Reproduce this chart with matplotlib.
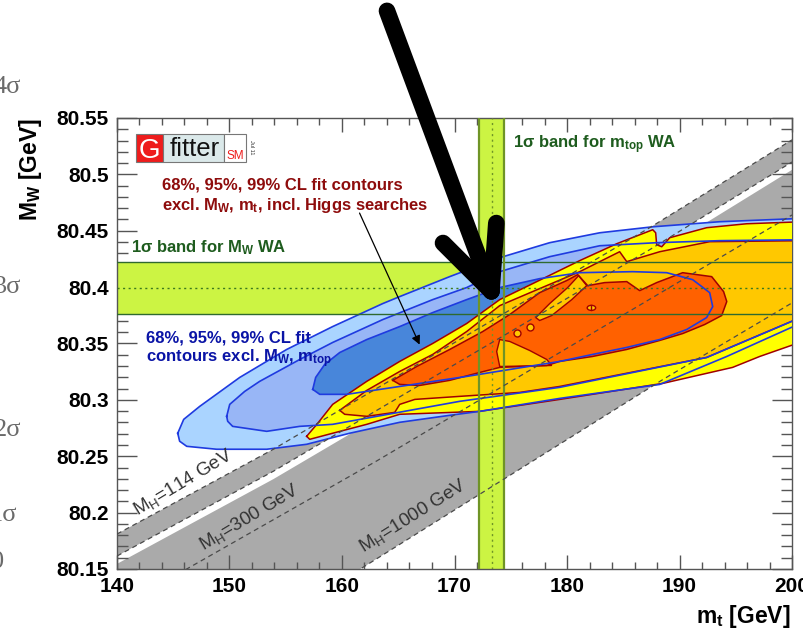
import numpy as np
import matplotlib
matplotlib.use('Agg')
import matplotlib.pyplot as plt
from matplotlib.patches import Rectangle, Ellipse
from matplotlib.ticker import FixedLocator, FuncFormatter

# Fontes. =====================================================================

plt.rcParams['font.family'] = ['Liberation Sans', 'DejaVu Sans']
plt.rcParams['mathtext.fontset'] = 'custom'
plt.rcParams['mathtext.rm'] = 'Liberation Sans:bold'
plt.rcParams['mathtext.it'] = 'Liberation Sans:bold'
plt.rcParams['mathtext.bf'] = 'Liberation Sans:bold'
plt.rcParams['mathtext.sf'] = 'Liberation Sans'

# Dados. ======================================================================

# medias mundiais (WA)
mw_wa, mw_err = 80.399, 0.023
mt_wa, mt_err = 173.3, 1.1

# bandas de predicao do SM (linhas M_H)
mh114_mt = [140.0, 153.9, 187.35, 200.0]
mh114_top_mw = [80.181, 80.2562, 80.4527, 80.5306]
mh114_bot_mw = [80.1615, 80.2367, 80.4332, 80.511]
white_bot_mw = [80.1545, 80.2297, 80.4262, 80.504]
mh300_mt = [140.0, 146.2, 163.08, 200.0]
mh300_mw = [80.115, 80.15, 80.2458, 80.464]
mh1000_mt = [140.0, 161.87, 188.53, 200.0]
mh1000_mw = [80.015, 80.1515, 80.3181, 80.386]

# contornos do fit sem M_W, m_top (azul)
blue99_mt = [145.40, 145.93, 147.35, 150.91, 155.08, 159.17, 163.62, 165.13, 169.57, 174.02,
             178.46, 182.91, 187.62, 193.57, 201.0,
             201.0, 194.20, 188.24, 179.35, 172.24, 169.57, 165.13, 160.68, 156.86, 153.31,
             148.86, 146.20, 145.57]
blue99_mw = [80.2704, 80.2827, 80.2942, 80.3199, 80.3447, 80.3650, 80.3854, 80.3916, 80.4093, 80.4261,
             80.4394, 80.4482, 80.4535, 80.4580, 80.4610,
             80.3690, 80.3385, 80.3137, 80.3013, 80.2898, 80.2863, 80.2801, 80.2704, 80.2606, 80.2562,
             80.2562, 80.2588, 80.2633]

blue95_mt = [149.75, 150.02, 151.35, 152.68, 156.24, 159.17, 163.62, 168.06, 171.08, 174.02,
             178.46, 182.91, 187.97, 193.57, 201.0,
             201.0, 192.41, 179.35, 170.46, 159.17, 156.24, 153.31, 150.28, 149.84]
blue95_mw = [80.2854, 80.2960, 80.3075, 80.3164, 80.3358, 80.3509, 80.3712, 80.3889, 80.3996, 80.4137,
             80.4270, 80.4367, 80.4394, 80.4412, 80.4420,
             80.3740, 80.3376, 80.3111, 80.2987, 80.2783, 80.2765, 80.2721, 80.2765, 80.2810]

blue68_mt = [157.40, 157.66, 158.46, 159.80, 162.20, 165.13, 168.06, 171.08, 174.02, 177.57,
             181.13, 185.84, 188.86, 191.17, 192.68, 192.95, 192.41, 190.64, 188.24, 185.31,
             182.28, 179.35, 171.08, 165.13, 160.42, 158.02]
blue68_mw = [80.3093, 80.3199, 80.3314, 80.3420, 80.3535, 80.3650, 80.3774, 80.3889, 80.3996, 80.4075,
             80.4128, 80.4137, 80.4128, 80.4066, 80.3951, 80.3827, 80.3730, 80.3624, 80.3535, 80.3465,
             80.3403, 80.3341, 80.3208, 80.3119, 80.3049, 80.3049]

# contornos do fit com buscas de Higgs (amarelo / laranja / vermelho)
yellow99_mt = [156.86, 157.84, 159.17, 162.20, 165.13, 168.06, 171.08, 174.02, 176.95, 181.13,
               184.42, 187.62, 187.88, 187.97, 188.42, 189.13, 192.41, 195.97, 201.0,
               201.0, 197.13, 194.72, 188.51, 179.35, 172.24, 165.13, 162.20, 159.17, 157.13]
yellow99_mw = [80.2677, 80.2792, 80.2960, 80.3164, 80.3341, 80.3500, 80.3677, 80.3889, 80.4031, 80.4235,
               80.4385, 80.4509, 80.4482, 80.4376, 80.4358, 80.4438, 80.4527, 80.4562, 80.4580,
               80.3520, 80.3385, 80.3288, 80.3146, 80.3004, 80.2898, 80.2872, 80.2783, 80.2704, 80.2650]

orange95_mt = [159.80, 162.20, 165.13, 168.06, 171.08, 174.02, 177.57, 181.13, 182.91, 184.68,
               185.31, 188.24, 192.68, 201.0,
               201.0, 192.41, 179.35, 175.80, 170.46, 166.47, 165.13, 164.69, 162.20, 160.24]
orange95_mw = [80.2907, 80.3084, 80.3252, 80.3403, 80.3606, 80.3836, 80.3987, 80.4137, 80.4226, 80.4314,
               80.4226, 80.4314, 80.4403, 80.4412,
               80.3740, 80.3376, 80.3119, 80.3066, 80.3031, 80.3004, 80.2960, 80.2889, 80.2854, 80.2872]

red68_mt = [164.51, 166.64, 169.57, 172.51, 174.91, 177.57, 179.97, 180.95, 181.84, 183.34,
            185.31, 186.46, 187.97, 190.28, 192.86, 193.92, 194.20,
            193.75, 192.23, 190.28, 188.24, 185.31, 182.28, 179.35, 178.20, 174.02,
            172.24, 169.57, 166.91, 165.13]
red68_mw = [80.3173, 80.3296, 80.3447, 80.3606, 80.3757, 80.3951, 80.4058, 80.4111, 80.4013, 80.4040,
            80.4049, 80.3969, 80.4040, 80.4128, 80.4093, 80.3960, 80.3872,
            80.3748, 80.3668, 80.3588, 80.3527, 80.3447, 80.3385, 80.3341, 80.3305, 80.3288,
            80.3243, 80.3173, 80.3128, 80.3137]

# ilhas de 95% dentro do contorno de 68%
tongue_top_mt = [181.04, 181.75, 180.42, 178.64, 177.57, 177.22, 178.46, 180.06]
tongue_top_mw = [80.4102, 80.4013, 80.3889, 80.3748, 80.3704, 80.3730, 80.3854, 80.3996]
tongue_bot_mt = [174.02, 174.91, 176.68, 178.20, 178.64, 174.02, 173.75]
tongue_bot_mw = [80.3535, 80.3518, 80.3438, 80.3358, 80.3305, 80.3296, 80.3429]
islands_mt = [175.53, 176.68]
islands_mw = [80.3597, 80.3650]
blob_mt, blob_mw = 182.17, 80.3816

# ticks
xtick_major = [140, 150, 160, 170, 180, 190, 200]
ytick_major = [80.15, 80.2, 80.25, 80.3, 80.35, 80.4, 80.45, 80.5, 80.55]

# Figura. =====================================================================

fig = plt.figure(figsize=(8.04, 6.32), dpi=100)
fig.set_facecolor('w')
ax = fig.add_axes([0.1455, 0.0997, 0.8396, 0.7136])
ax.set_xlim(140, 200)
ax.set_ylim(80.15, 80.55)

# banda cinza do SM com a faixa branca
ax.fill(mh114_mt + mh1000_mt[::-1], mh114_top_mw + mh1000_mw[::-1],
        fc='#aaaaaa', ec='none', zorder=1)
ax.fill(mh114_mt + mh114_mt[::-1], mh114_bot_mw + white_bot_mw[::-1],
        fc='white', ec='none', zorder=1.5)

# bandas de 1 sigma
lime = '#ccf443'
ax.axhspan(mw_wa - mw_err, mw_wa + mw_err, color=lime, lw=0, zorder=2)
ax.axvspan(mt_wa - mt_err, mt_wa + mt_err, color=lime, lw=0, zorder=2)

# contornos azuis (preenchimento)
blue_line = '#1f3be0'
for cmt, cmw, col in [(blue99_mt, blue99_mw, '#aad4ff'),
                      (blue95_mt, blue95_mw, '#98b6f6'),
                      (blue68_mt, blue68_mw, '#4886da')]:
    ax.fill(cmt, cmw, fc=col, ec='none', zorder=3)

# contornos com Higgs
red_line = '#a00000'
for cmt, cmw, col in [(yellow99_mt, yellow99_mw, '#ffff00'),
                      (orange95_mt, orange95_mw, '#ffc800'),
                      (red68_mt, red68_mw, '#ff6100')]:
    ax.fill(cmt, cmw, fc=col, ec='none', zorder=4)
    ax.plot(cmt + cmt[:1], cmw + cmw[:1], color=red_line, lw=1.1, zorder=5)

for cmt, cmw in [(tongue_top_mt, tongue_top_mw), (tongue_bot_mt, tongue_bot_mw)]:
    ax.fill(cmt, cmw, fc='#ffc800', ec=red_line, lw=1.0, zorder=4.5)
ax.plot(islands_mt, islands_mw, 'o', ms=5, mfc='#ffc800', mec=red_line, mew=1.0, zorder=4.6)
ax.add_patch(Ellipse((blob_mt, blob_mw), 0.75, 0.0045, fc='#ffc800', ec=red_line, lw=1.0, zorder=4.6))
ax.plot([blob_mt, blob_mt], [blob_mw - 0.0022, blob_mw + 0.0022], color=red_line, lw=1.0, zorder=4.7)

# contornos azuis (linhas)
for cmt, cmw in [(blue99_mt, blue99_mw), (blue95_mt, blue95_mw), (blue68_mt, blue68_mw)]:
    ax.plot(cmt + cmt[:1], cmw + cmw[:1], color=blue_line, lw=1.2, zorder=6)

# bordas das bandas e valores centrais
for v in [mw_wa - mw_err, mw_wa + mw_err]:
    ax.axhline(v, color='#2f6a2f', lw=1.0, zorder=7)
for v in [mt_wa - mt_err, mt_wa + mt_err]:
    ax.axvline(v, color='#6f9426', lw=1.6, zorder=7)
ax.axhline(mw_wa, color='#3d7a1d', lw=1.0, ls=(0, (1.5, 2.5)), zorder=7)
ax.axvline(mt_wa, color='#6f9426', lw=1.0, ls=(0, (1.5, 2.5)), zorder=7)

# linhas tracejadas M_H
for lmt, lmw in [(mh114_mt, mh114_top_mw), (mh114_mt, mh114_bot_mw),
                 (mh300_mt, mh300_mw), (mh1000_mt, mh1000_mw)]:
    ax.plot(lmt, lmw, color='#4a4a4a', lw=0.9, ls=(0, (4, 3)), zorder=8)

# Textos. =====================================================================

green = '#1e5c1e'
dred = '#8e0c0c'
dblue = '#0a14a6'

ax.text(141.28, 80.4312, '1σ band for $M_W$ WA', color=green, fontsize=12,
        fontweight='bold', va='baseline', zorder=9)
ax.text(175.17, 80.5232, '1σ band for $m_{top}$ WA', color=green, fontsize=12,
        fontweight='bold', va='baseline', zorder=9)
ax.text(143.97, 80.4863, '68%, 95%, 99% CL fit contours', color=dred, fontsize=12,
        fontweight='bold', va='baseline', zorder=9)
ax.text(143.97, 80.4686, 'excl. $M_W$, $m_t$, incl. Higgs searches', color=dred, fontsize=12,
        fontweight='bold', va='baseline', zorder=9)
ax.text(142.61, 80.3506, '68%, 95%, 99% CL fit', color=dblue, fontsize=12,
        fontweight='bold', va='baseline', zorder=9)
ax.text(142.61, 80.3329, 'contours excl. $M_W$, $m_{top}$', color=dblue, fontsize=12,
        fontweight='bold', va='baseline', zorder=9)

mh_labels = ['$\\mathsf{M_H}$=114 GeV', '$\\mathsf{M_H}$=300 GeV', '$\\mathsf{M_H}$=1000 GeV']
mh_pos = [(141.8, 80.197, 31), (147.64, 80.1665, 31), (161.87, 80.1640, 32)]
for lab, (px_, py_, rot) in zip(mh_labels, mh_pos):
    ax.text(px_, py_, lab, color='#333333', fontsize=13.5, rotation=rot,
            rotation_mode='anchor', ha='left', va='baseline', zorder=9)

# seta fina
ax.annotate('', xy=(166.9, 80.349), xytext=(161.56, 80.4657),
            arrowprops=dict(arrowstyle='-|>', color='k', lw=0.9, mutation_scale=13,
                            shrinkA=0, shrinkB=0), zorder=9)

# logo Gfitter
ax.add_patch(Rectangle((141.72, 80.5114), 2.37, 0.0245, fc='#ee1c1c', ec='#777777', lw=0.8, zorder=9))
ax.add_patch(Rectangle((144.09, 80.5114), 5.42, 0.0245, fc='#dbe9ea', ec='#777777', lw=0.8, zorder=9))
ax.add_patch(Rectangle((149.51, 80.5114), 1.99, 0.0245, fc='white', ec='#777777', lw=0.8, zorder=9))
ax.text(142.88, 80.5146, 'G', color='white', fontsize=20, ha='center', va='baseline', zorder=10)
ax.text(146.9, 80.5159, 'fitter', color='#111111', fontsize=18.5, ha='center', va='baseline', zorder=10)
ax.text(150.51, 80.5137, 'SM', color='#ee1c1c', fontsize=8.5, ha='center', va='baseline', zorder=10)
ax.text(151.95, 80.5237, 'Jul 11', color='#333333', fontsize=4, rotation=270,
        ha='center', va='center', zorder=10)

# seta grande preta
tip = (173.28, 80.3963)
for start in [(164.0, 80.645), (168.98, 80.4391), (173.72, 80.4568)]:
    ax.plot([start[0], tip[0]], [start[1], tip[1]], color='k', lw=12,
            solid_capstyle='round', clip_on=False, zorder=20)

# Eixos. ======================================================================

ax.xaxis.set_major_locator(FixedLocator(xtick_major))
ax.xaxis.set_minor_locator(FixedLocator(np.arange(140, 201, 2)))
ax.yaxis.set_major_locator(FixedLocator(ytick_major))
ax.yaxis.set_minor_locator(FixedLocator(np.arange(80.15, 80.555, 0.01)))
ax.yaxis.set_major_formatter(FuncFormatter(lambda v, p: '{:g}'.format(round(v, 3))))
ax.tick_params(which='both', direction='in', top=True, right=True, color='#555555', width=1.0)
ax.xaxis.set_tick_params(which='major', length=10, pad=6)
ax.xaxis.set_tick_params(which='minor', length=5.3)
ax.yaxis.set_tick_params(which='major', length=14.4, pad=6)
ax.yaxis.set_tick_params(which='minor', length=8)
for lab in ax.get_xticklabels() + ax.get_yticklabels():
    lab.set_fontsize(15)
    lab.set_fontweight('bold')
for sp in ax.spines.values():
    sp.set_color('#555555')
    sp.set_linewidth(1.0)

ax.text(-0.128, 1.0, '$M_W$ [GeV]', transform=ax.transAxes, rotation=90, fontsize=16.5,
        fontweight='bold', ha='center', va='top')
ax.text(0.997, -0.106, '$m_t$ [GeV]', transform=ax.transAxes, fontsize=16.5,
        fontweight='bold', ha='right', va='center')

# restos da figura de fundo (sigmas a esquerda)
sig_labels = ['4σ', '3σ', '2σ', '1σ', '0']
sig_x = [21, 21, 21, 17, 4]
sig_y = [87, 287, 430, 515, 562]
for lab, sx, sy in zip(sig_labels, sig_x, sig_y):
    fig.text(sx / 804, 1 - sy / 632, lab, family='Liberation Serif', fontsize=19,
             color='#6a6a6a', ha='right', va='center')

plt.savefig('out.png', dpi=100)
